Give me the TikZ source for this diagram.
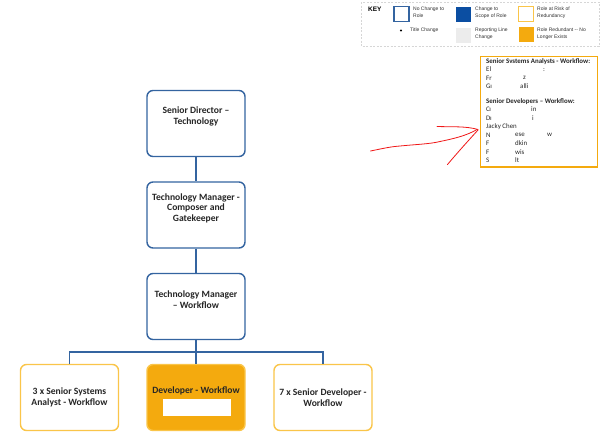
\documentclass[tikz,border=0pt]{standalone}
\usepackage{fontspec}
\setmainfont{Carlito}
\newfontfamily\keyfont{Liberation Sans}
\definecolor{boxblue}{HTML}{3464A0}
\definecolor{darkblue}{HTML}{0B4EA2}
\definecolor{riskor}{HTML}{FAC549}
\definecolor{redor}{HTML}{F4AA0E}
\definecolor{keygray}{HTML}{ECECEC}
\definecolor{dashgray}{HTML}{D6D6D6}
\definecolor{scrib}{HTML}{F01818}
\tikzset{
  orgbox/.style={draw=boxblue, line width=1.4pt, rounded corners=6pt, fill=white,
    minimum width=98pt, minimum height=66pt, inner sep=0pt},
  riskbox/.style={orgbox, draw=riskor},
  gonebox/.style={orgbox, draw=riskor, fill=redor},
  orgtxt/.style={font=\bfseries\fontsize{9.6}{10.6}\selectfont, align=center, text=black!85},
  conn/.style={draw=boxblue, line width=1.2pt},
  keytxt/.style={font=\keyfont\fontsize{5}{6.2}\selectfont, align=left, anchor=north west, inner sep=0pt, text=black!80},
  keysq/.style={minimum size=15pt, inner sep=0pt},
  listtxt/.style={font=\fontsize{6.9}{7}\selectfont, anchor=west, inner sep=0pt, text=black!85},
  listhead/.style={listtxt, font=\bfseries\fontsize{6.9}{7}\selectfont},
}
\begin{document}
\begin{tikzpicture}[x=1pt,y=-1pt]
\useasboundingbox[fill=white] (0,0) rectangle (600,437);

% ---- key ----
\draw[dashgray, dashed, dash pattern=on 2pt off 1.5pt, line width=0.6pt] (361,2) rectangle (599,46);
\node[font=\keyfont\bfseries\fontsize{6.5}{7}\selectfont, anchor=north west, inner sep=0pt] (keyt) at (368,7) {KEY};
\node[keysq, draw=boxblue, line width=1.3pt] (k1) at (401.5,14) {};
\node[keytxt] (k1t) at (413,7) {No Change to\\Role};
\node[keysq, fill=darkblue] (k2) at (463.5,14) {};
\node[keytxt] (k2t) at (475,7) {Change to\\Scope of Role};
\node[keysq, draw=riskor, line width=1.3pt] (k3) at (526,14) {};
\node[keytxt] (k3t) at (537,7) {Role at Risk of\\Redundancy};
\node[circle, fill=black, inner sep=0pt, minimum size=2.2pt] (k4) at (401,30.5) {};
\node[keytxt] (k4t) at (410,28) {Title Change};
\node[keysq, fill=keygray] (k5) at (463.5,35) {};
\node[keytxt] (k5t) at (475,28) {Reporting Line\\Change};
\node[keysq, fill=redor] (k6) at (526,34.5) {};
\node[keytxt] (k6t) at (537,28) {Role Redundant -- No\\Longer Exists};

% ---- list box ----
\draw[draw=redor, line width=1.3pt] (480.5,56.5) rectangle (597.5,167);
\node[listhead] (h1) at (486,62) {Senior Svstems Analysts - Workflow:};
\node[listtxt] (a1) at (486,69.5) {El};
\node[listtxt] (a1b) at (543,69.5) {:};
\node[listtxt] (a2) at (486,78) {Fr};
\node[listtxt] (a2b) at (523,78) {z};
\node[listtxt] (a3) at (486,86.5) {G\kern-0.3pt ı};
\node[listtxt] (a3b) at (520,86.5) {alli};
\node[listhead] (h2) at (486,101.5) {Senior Developers -- Workflow:};
\node[listtxt] (b1) at (486,109.5) {C\kern-0.5pt ı};
\node[listtxt] (b1b) at (531,109.5) {in};
\node[listtxt] (b2) at (486,118) {D\kern-0.3pt ı};
\node[listtxt] (b2b) at (532,118) {i};
\node[listtxt] (b3) at (486,126.5) {Jacky Chen};
\node[listtxt] (b4) at (486,135) {N};
\node[listtxt] (b4b) at (515,135) {ese};
\node[listtxt] (b4c) at (547,135) {w};
\node[listtxt] (b5) at (486,143.5) {F};
\node[listtxt] (b5b) at (515,143.5) {dkin};
\node[listtxt] (b6) at (486,152) {F};
\node[listtxt] (b6b) at (515,152) {wis};
\node[listtxt] (b7) at (486,160.5) {S};
\node[listtxt] (b7b) at (515,160.5) {lt};

% ---- red scribble arrow ----
\draw[scrib, line width=0.8pt, line cap=round, line join=round]
  (370.5,151) .. controls (385,148) and (392,146.5) .. (400,146)
  .. controls (415,144.5) and (430,144) .. (440,141.5)
  .. controls (452,139) and (466,136) .. (477,129.5);
\draw[scrib, line width=0.8pt, line cap=round]
  (437,126.5) .. controls (452,127) and (466,126) .. (478,129.5);
\draw[scrib, line width=0.8pt, line cap=round]
  (447.5,164.5) .. controls (458,152) and (468,141) .. (478,130);

% ---- org chart ----
\node[orgbox, label={[orgtxt, yshift=7pt]center:Senior Director --\\Technology}] (sd) at (196,123.5) {};
\node[orgbox, label={[orgtxt, yshift=7pt]center:Technology Manager -\\Composer and\\Gatekeeper}] (tmc) at (196,215) {};
\node[orgbox, label={[orgtxt, yshift=7pt]center:Technology Manager\\-- Workflow}] (tmw) at (196,306.5) {};

\node[riskbox, label={[orgtxt]center:3 x Senior Systems\\Analyst - Workflow}] (ssa) at (69.5,397.5) {};
\node[gonebox] (dev) at (196,397.5) {};
\node[orgtxt] (devt) at (196,391) {Developer - Workflow};
\node[fill=white, minimum width=68pt, minimum height=17pt, inner sep=0pt] (devr) at (197,407.5) {};
\node[riskbox, label={[orgtxt]center:7 x Senior Developer -\\Workflow}] (sdev) at (323,397.5) {};

\draw[conn] (sd.south) -- (tmc.north);
\draw[conn] (tmc.south) -- (tmw.north);
\coordinate (bar) at (196,352);
\draw[conn] (tmw.south) -- (dev.north);
\draw[conn] (ssa.north) |- (bar) -| (sdev.north);
\end{tikzpicture}
\end{document}
